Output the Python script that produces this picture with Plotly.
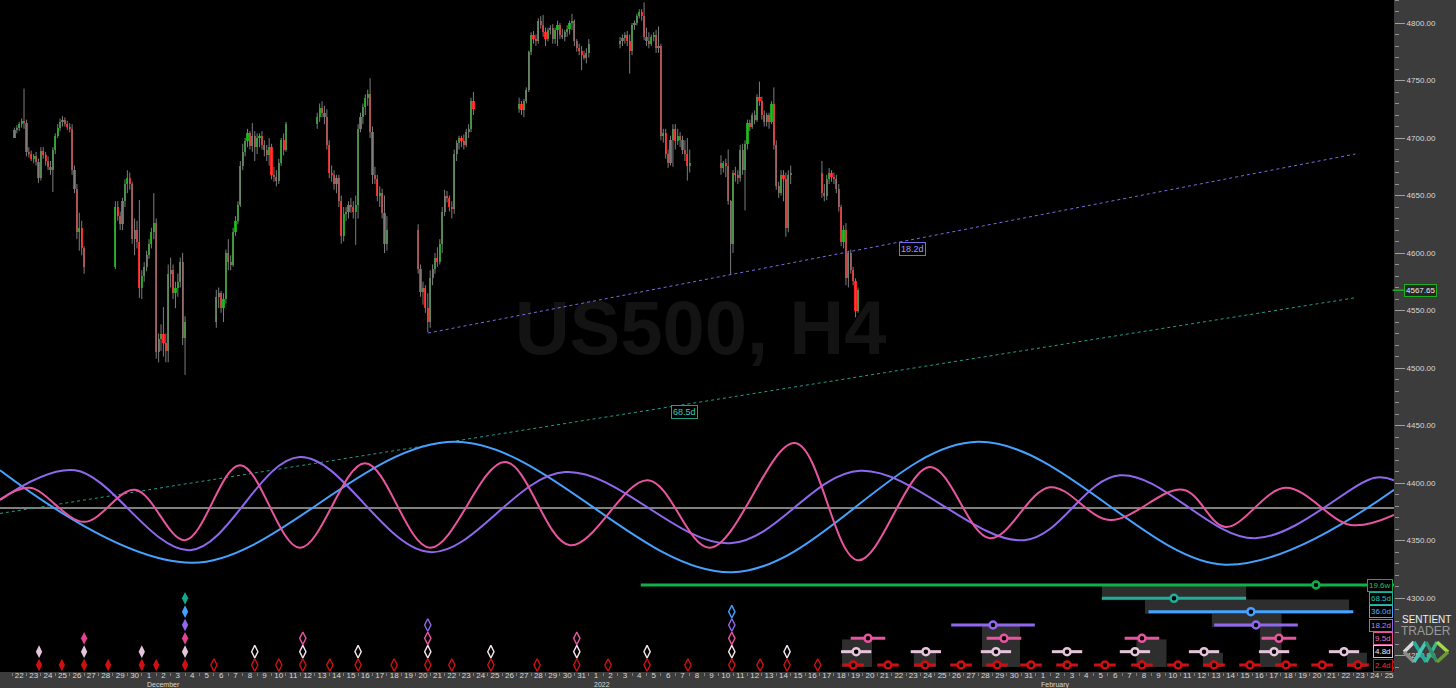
import pandas as pd
import plotly.graph_objects as go

# ---------------- price data (US500, H4) ----------------
trade_days = ["2021-11-22", "2021-11-23", "2021-11-24", "2021-11-25", "2021-11-26",
              "2021-11-29", "2021-11-30", "2021-12-01", "2021-12-02", "2021-12-03",
              "2021-12-06", "2021-12-07", "2021-12-08", "2021-12-09", "2021-12-10",
              "2021-12-13", "2021-12-14", "2021-12-15", "2021-12-16", "2021-12-17",
              "2021-12-20", "2021-12-21", "2021-12-22", "2021-12-23",
              "2021-12-27", "2021-12-28", "2021-12-29", "2021-12-30", "2021-12-31",
              "2022-01-03", "2022-01-04", "2022-01-05", "2022-01-06", "2022-01-07",
              "2022-01-10", "2022-01-11", "2022-01-12", "2022-01-13", "2022-01-14",
              "2022-01-17", "2022-01-18", "2022-01-19"]
first_open = 4700
highs = [
    4709, 4711, 4714, 4717, 4743, 4716,
    4692, 4689, 4686, 4688, 4682, 4692,
    4692, 4688, 4684, 4680, 4692, 4704,
    4712, 4717, 4719, 4718, 4715, 4713,
    4712, 4676, 4660, 4635, 4628, 4606,
    4645, 4645, 4636, 4648, 4664, 4672,
    4670, 4662, 4630, 4628, 4646, 4585,
    4592, 4602, 4612, 4622, 4652, 4630,
    4530, 4538, 4553, 4530, 4590, 4596,
    4590, 4575, 4582, 4596, 4600, 4545,
    4568, 4570, 4567, 4565, 4603, 4612,
    4598, 4622, 4632, 4645, 4680, 4695,
    4700, 4708, 4706, 4713, 4706, 4704,
    4704, 4706, 4698, 4694, 4700, 4695,
    4675, 4672, 4682, 4700, 4704, 4714,
    4722, 4730, 4732, 4728, 4725, 4698,
    4676, 4672, 4668, 4668, 4650, 4640,
    4640, 4645, 4648, 4645, 4650, 4712,
    4722, 4730, 4738, 4742, 4752, 4710,
    4675, 4668, 4658, 4656, 4650, 4632,
    4625, 4590, 4575, 4572, 4565, 4585,
    4590, 4600, 4605, 4612, 4640, 4655,
    4654, 4650, 4645, 4690, 4698, 4702,
    4702, 4703, 4708, 4712, 4735, 4740,
    4735, 4732, 4734, 4744, 4776, 4792,
    4793, 4790, 4804, 4806, 4807, 4796,
    4796, 4798, 4799, 4796, 4802, 4800,
    4795, 4794, 4798, 4802, 4808, 4803,
    4786, 4782, 4780, 4776, 4778, 4786,
    4788, 4790, 4792, 4793, 4790, 4800,
    4802, 4808, 4812, 4812, 4818, 4796,
    4792, 4790, 4792, 4794, 4797, 4782,
    4708, 4708, 4690, 4702, 4712, 4712,
    4708, 4705, 4702, 4698, 4700, 4690,
    4685, 4680, 4682, 4690, 4646, 4672,
    4675, 4672, 4694, 4695, 4698, 4716,
    4716, 4722, 4724, 4738, 4749, 4736,
    4724, 4722, 4722, 4732, 4744, 4698,
    4662, 4672, 4672, 4670, 4672, 4676,
    4680, 4660, 4668, 4674, 4672, 4670,
    4668, 4660, 4642, 4624, 4626, 4602,
    4603, 4588, 4578, 4570]
lows = [
    4700, 4704, 4706, 4709, 4708, 4684,
    4683, 4680, 4678, 4676, 4661, 4663,
    4682, 4676, 4672, 4668, 4653, 4686,
    4700, 4706, 4710, 4710, 4707, 4705,
    4668, 4652, 4612, 4602, 4598, 4582,
    4586, 4628, 4620, 4620, 4640, 4652,
    4655, 4608, 4598, 4604, 4561, 4560,
    4575, 4584, 4595, 4604, 4612, 4508,
    4505, 4515, 4510, 4505, 4505, 4570,
    4560, 4552, 4562, 4570, 4520, 4494,
    4535, 4552, 4548, 4540, 4556, 4585,
    4585, 4588, 4615, 4625, 4640, 4672,
    4684, 4692, 4690, 4688, 4680, 4686,
    4692, 4690, 4684, 4680, 4676, 4664,
    4662, 4658, 4660, 4676, 4685, 4688,
    4708, 4714, 4718, 4712, 4690, 4665,
    4662, 4655, 4652, 4640, 4608, 4610,
    4628, 4630, 4635, 4630, 4607, 4630,
    4705, 4712, 4720, 4728, 4700, 4660,
    4660, 4645, 4640, 4630, 4600, 4602,
    4582, 4562, 4555, 4548, 4531, 4535,
    4572, 4582, 4588, 4590, 4600, 4632,
    4644, 4636, 4630, 4634, 4680, 4690,
    4692, 4690, 4692, 4700, 4705, 4720,
    4722, 4720, 4718, 4730, 4740, 4772,
    4782, 4780, 4782, 4795, 4788, 4780,
    4784, 4790, 4782, 4782, 4780, 4786,
    4786, 4784, 4788, 4790, 4794, 4780,
    4775, 4772, 4759, 4768, 4765, 4770,
    4778, 4780, 4782, 4780, 4756, 4772,
    4794, 4798, 4804, 4802, 4785, 4780,
    4778, 4780, 4784, 4774, 4774, 4698,
    4696, 4682, 4674, 4676, 4675, 4690,
    4694, 4692, 4686, 4680, 4663, 4670,
    4668, 4670, 4666, 4642, 4581, 4600,
    4662, 4660, 4662, 4668, 4637, 4690,
    4706, 4708, 4712, 4714, 4728, 4716,
    4710, 4710, 4708, 4712, 4690, 4655,
    4648, 4650, 4645, 4614, 4618, 4660,
    4648, 4645, 4646, 4660, 4662, 4660,
    4652, 4636, 4606, 4604, 4572, 4570,
    4582, 4572, 4544, 4548]
closes = [
    4707, 4709, 4712, 4715, 4713, 4688,
    4686, 4682, 4684, 4679, 4665, 4689,
    4685, 4680, 4675, 4672, 4690, 4702,
    4709, 4714, 4716, 4712, 4710, 4708,
    4672, 4656, 4618, 4622, 4604, 4588,
    4640, 4632, 4625, 4645, 4660, 4665,
    4660, 4612, 4620, 4610, 4570, 4580,
    4588, 4598, 4608, 4618, 4626, 4514,
    4525, 4530, 4522, 4515, 4582, 4585,
    4565, 4570, 4575, 4592, 4526, 4540,
    4562, 4565, 4552, 4560, 4600, 4592,
    4590, 4618, 4628, 4642, 4676, 4688,
    4697, 4704, 4693, 4702, 4692, 4700,
    4702, 4694, 4690, 4685, 4692, 4668,
    4666, 4663, 4678, 4698, 4690, 4712,
    4718, 4726, 4722, 4718, 4694, 4670,
    4668, 4660, 4665, 4645, 4615, 4634,
    4636, 4642, 4640, 4636, 4642, 4708,
    4718, 4727, 4735, 4738, 4705, 4668,
    4664, 4650, 4652, 4635, 4608, 4620,
    4586, 4566, 4570, 4552, 4540, 4578,
    4586, 4596, 4592, 4608, 4636, 4650,
    4648, 4640, 4638, 4686, 4696, 4700,
    4697, 4694, 4705, 4708, 4732, 4725,
    4730, 4724, 4732, 4742, 4775, 4790,
    4786, 4784, 4802, 4798, 4792, 4786,
    4794, 4796, 4786, 4794, 4798, 4790,
    4788, 4792, 4795, 4800, 4802, 4784,
    4778, 4776, 4772, 4770, 4774, 4782,
    4784, 4787, 4790, 4784, 4776, 4798,
    4800, 4806, 4810, 4806, 4788, 4784,
    4782, 4788, 4790, 4778, 4780, 4702,
    4704, 4686, 4678, 4698, 4708, 4697,
    4702, 4698, 4690, 4686, 4676, 4678,
    4674, 4678, 4676, 4645, 4608, 4670,
    4668, 4665, 4690, 4672, 4695, 4713,
    4710, 4720, 4716, 4736, 4732, 4720,
    4714, 4720, 4714, 4730, 4694, 4658,
    4652, 4668, 4664, 4622, 4668, 4670,
    4652, 4650, 4664, 4670, 4666, 4664,
    4656, 4640, 4610, 4620, 4578, 4600,
    4585, 4576, 4550, 4567.65]
last_price = 4567.65

# ---------------- trend lines ----------------
tl_182_t = ["2021-12-20 20:24", "2022-02-23 04:00"]
tl_182_p = [4530.4, 4686.1]
tl_685_t = ["2021-11-21 04:00", "2022-02-23 04:00"]
tl_685_p = [4373.5, 4561.1]

# ---------------- cycle waves (extrema, amplitude units) ----------------
w36_t = ["2021-11-21 04:00", "2021-12-04 11:30", "2021-12-22 17:20", "2022-01-10 22:20",
         "2022-01-27 23:50", "2022-02-14 03:50", "2022-02-25 20:10"]
w36_v = [0.60, -0.87, 1.05, -1.02, 1.05, -0.90, 0.29]
w18_t = ["2021-11-21 04:00", "2021-11-26 08:50", "2021-12-04 08:10", "2021-12-11 23:20",
         "2021-12-20 23:45", "2021-12-30 08:25", "2022-01-10 19:00", "2022-01-19 19:25",
         "2022-01-31 05:00", "2022-02-06 20:10", "2022-02-16 04:50", "2022-02-24 12:30",
         "2022-02-25 20:10"]
w18_v = [0.13, 0.60, -0.67, 0.81, -0.70, 0.57, -0.56, 0.59, -0.51, 0.52, -0.48, 0.48, 0.44]
w9_t = ["2021-11-21 04:00", "2021-11-23 06:00", "2021-11-27 00:00", "2021-11-30 12:45",
        "2021-12-04 00:00", "2021-12-07 19:30", "2021-12-11 23:20", "2021-12-16 11:30",
        "2021-12-20 23:45", "2021-12-26 04:30", "2021-12-30 16:50", "2022-01-05 02:30",
        "2022-01-09 09:50", "2022-01-15 07:10", "2022-01-19 16:00", "2022-01-24 15:50",
        "2022-01-28 19:40", "2022-02-01 23:30", "2022-02-06 03:20", "2022-02-11 05:00",
        "2022-02-14 03:50", "2022-02-18 07:40", "2022-02-22 20:00", "2022-02-25 20:10"]
w9_v = [0.13, 0.32, -0.22, 0.29, -0.51, 0.68, -0.63, 0.71, -0.63, 0.73, -0.59, 0.44,
        -0.63, 1.03, -0.83, 0.65, -0.48, 0.33, -0.19, 0.29, -0.30, 0.32, -0.27, -0.11]

# ---------------- past cycle troughs (diamonds) ----------------
d24_fill = ["2021-11-23 21:00", "2021-11-25 11:00", "2021-11-27 00:00", "2021-11-28 16:00",
            "2021-12-01 00:00", "2021-12-02 00:00", "2021-12-04 00:00"]
d24_open = ["2021-12-06 00:00", "2021-12-08 20:00", "2021-12-10 12:00", "2021-12-12 04:00",
            "2021-12-14 01:00", "2021-12-16 00:00", "2021-12-18 12:00", "2021-12-20 20:00",
            "2021-12-22 12:00", "2021-12-25 05:00", "2021-12-28 10:00", "2021-12-31 04:00",
            "2022-01-02 08:00", "2022-01-05 01:00", "2022-01-07 21:00", "2022-01-10 22:00",
            "2022-01-12 21:00", "2022-01-14 18:00", "2022-01-16 21:00"]
d48_fill = ["2021-11-23 21:00", "2021-11-27 00:00", "2021-12-01 00:00", "2021-12-04 00:00"]
d48_open = ["2021-12-08 20:00", "2021-12-12 04:00", "2021-12-16 00:00", "2021-12-20 20:00",
            "2021-12-25 05:00", "2021-12-31 04:00", "2022-01-05 01:00", "2022-01-10 22:00",
            "2022-01-14 18:00"]
d95_fill = ["2021-11-27 00:00", "2021-12-04 00:00"]
d95_open = ["2021-12-12 04:00", "2021-12-20 20:00", "2021-12-31 04:00", "2022-01-10 22:00"]
d182_fill = ["2021-12-04 00:00"]
d182_open = ["2021-12-20 20:00", "2022-01-10 22:00"]
d36_fill = ["2021-12-04 00:00"]
d36_open = ["2022-01-10 22:00"]
d685_fill = ["2021-12-04 00:00"]

# ---------------- projected troughs (circles with ranges) ----------------
f24 = ["2022-01-19 08:00", "2022-01-21 18:00", "2022-01-24 07:30", "2022-01-26 19:30",
       "2022-01-29 07:30", "2022-01-31 16:00", "2022-02-03 04:00", "2022-02-05 19:00",
       "2022-02-08 08:40", "2022-02-10 20:40", "2022-02-13 08:40", "2022-02-15 20:30",
       "2022-02-18 08:30", "2022-02-20 20:30", "2022-02-23 08:10", "2022-02-25 17:00"]
f48 = ["2022-01-19 13:00", "2022-01-24 09:00", "2022-01-29 05:40", "2022-02-03 04:00",
       "2022-02-07 21:00", "2022-02-12 16:00", "2022-02-17 12:30", "2022-02-22 09:00"]
f95 = ["2022-01-20 08:40", "2022-01-29 19:00", "2022-02-08 08:40", "2022-02-17 20:40"]
f182 = ["2022-01-29 00:45", "2022-02-16 06:30"]
f36 = ["2022-02-15 22:00"]
f685 = ["2022-02-10 14:00"]
f196 = ["2022-02-20 10:20"]
f196_range = ["2022-01-04 14:30", "2022-02-28 00:00"]
range_days = {"2.4d": 0.75, "4.8d": 1.05, "9.5d": 1.2, "18.2d": 2.9, "36.0d": 7.1, "68.5d": 5.0}

# projection windows (start, end, first row, last row)
win_start = ["2022-01-18 13:30", "2022-01-23 13:00", "2022-01-28 06:30", "2022-02-07 23:30",
             "2022-02-12 14:00", "2022-02-16 13:00", "2022-02-22 14:00", "2022-02-05 14:00",
             "2022-02-08 13:40", "2022-02-13 05:00"]
win_end = ["2022-01-20 15:20", "2022-01-25 02:00", "2022-01-30 21:40", "2022-02-10 01:30",
           "2022-02-13 23:30", "2022-02-18 01:00", "2022-02-23 23:20", "2022-02-15 14:00",
           "2022-02-22 17:20", "2022-02-18 01:00"]
win_row0 = [5, 6, 4, 5, 6, 4, 6, 1, 2, 3]
win_row1 = [6, 6, 6, 6, 6, 6, 6, 1, 2, 3]

cycle_names = ["19.6w", "68.5d", "36.0d", "18.2d", "9.5d", "4.8d", "2.4d"]

# ---------------- styles ----------------
C_UP, C_DN, C_WICK = "#16a516", "#ff1c1c", "#7c7c7c"
C196, C685, C36, C182, C95, C48, C24 = ("#10b048", "#1fae9c", "#45a2ff", "#9068ee",
                                       "#e8559f", "#e6c4dc", "#d01010")
TXT48 = "#f4e6f0"
ROW = {n: i for i, n in enumerate(cycle_names)}
XR = ["2021-11-21 04:00", "2022-02-25 20:10"]

# ---------------- build ----------------
times = []
for d in trade_days:
    for k in range(1, 7):
        times.append(pd.Timestamp(d) + pd.Timedelta(hours=4 * k))
times = times[:len(closes)]
opens = [first_open] + closes[:-1]

fig = go.Figure()

# watermark
fig.add_trace(go.Scatter(x=["2022-01-08 18:00"], y=[4529], mode="text", text=["<b>US500, H4</b>"],
                         textfont=dict(size=76, color="#131313", family="Liberation Sans"),
                         hoverinfo="skip"))

# wicks
wx, wy = [], []
for t, h, l in zip(times, highs, lows):
    wx += [t, t, None]
    wy += [l, h, None]
fig.add_trace(go.Scatter(x=wx, y=wy, mode="lines", line=dict(color=C_WICK, width=1), hoverinfo="skip"))

# bodies
base = [min(o, c) for o, c in zip(opens, closes)]
hgt = [max(abs(c - o), 0.8) for o, c in zip(opens, closes)]
cols = [C_UP if c >= o else C_DN for o, c in zip(opens, closes)]
fig.add_trace(go.Bar(x=times, y=hgt, base=base, width=4 * 3600 * 1000 * 0.9,
                     marker=dict(color=cols, line=dict(width=0)), hoverinfo="skip"))

# trend lines
fig.add_trace(go.Scatter(x=tl_182_t, y=tl_182_p, mode="lines",
                         line=dict(color="#7b6ae6", width=1, dash="dot"), hoverinfo="skip"))
fig.add_trace(go.Scatter(x=tl_685_t, y=tl_685_p, mode="lines",
                         line=dict(color="#1f9f8c", width=1, dash="dot"), hoverinfo="skip"))

# waves
for tt, vv, cc in [(w36_t, w36_v, C36), (w18_t, w18_v, C182), (w9_t, w9_v, C95)]:
    fig.add_trace(go.Scatter(x=tt, y=vv, yaxis="y2", mode="lines",
                             line=dict(color=cc, width=2, shape="spline", smoothing=1.0),
                             hoverinfo="skip"))

# diamonds
def diamonds(dates, name, color, filled, edge=None):
    if not dates:
        return
    fig.add_trace(go.Scatter(
        x=dates, y=[ROW[name]] * len(dates), yaxis="y3", mode="markers", hoverinfo="skip",
        marker=dict(symbol="diamond-tall" if filled else "diamond-tall-open", size=9,
                    color=color, line=dict(color=edge or color, width=1.4 if not filled else 0))))

diamonds(d24_fill, "2.4d", C24, True)
diamonds(d24_open, "2.4d", C24, False)
diamonds(d48_fill, "4.8d", C48, True)
diamonds(d48_open, "4.8d", TXT48, False)
diamonds(d95_fill, "9.5d", "#e0448f", True)
diamonds(d95_open, "9.5d", C95, False)
diamonds(d182_fill, "18.2d", C182, True)
diamonds(d182_open, "18.2d", C182, False)
diamonds(d36_fill, "36.0d", C36, True)
diamonds(d36_open, "36.0d", C36, False)
diamonds(d685_fill, "68.5d", "#14a88e", True)

# projection windows (dark boxes)
shapes = []
for s, e, r0, r1 in zip(win_start, win_end, win_row0, win_row1):
    shapes.append(dict(type="rect", xref="x", yref="y3", x0=s, x1=e, y0=r0 - 0.92, y1=r1 + 0.15,
                       fillcolor="#2e2e2e", line=dict(width=0), layer="below"))

# projected troughs
def projections(centers, name, color, span=None):
    xs, ys = [], []
    for c in centers:
        t = pd.Timestamp(c)
        if span is None:
            a = t - pd.Timedelta(days=range_days[name])
            b = t + pd.Timedelta(days=range_days[name])
        else:
            a, b = pd.Timestamp(span[0]), pd.Timestamp(span[1])
        xs += [a, b, None]
        ys += [ROW[name], ROW[name], None]
    fig.add_trace(go.Scatter(x=xs, y=ys, yaxis="y3", mode="lines", line=dict(color=color, width=3),
                             hoverinfo="skip"))
    fig.add_trace(go.Scatter(x=centers, y=[ROW[name]] * len(centers), yaxis="y3", mode="markers",
                             marker=dict(symbol="circle", size=7, color="#000000",
                                         line=dict(color=color, width=2.5)), hoverinfo="skip"))

projections(f196, "19.6w", C196, span=f196_range)
projections(f685, "68.5d", C685)
projections(f36, "36.0d", C36)
projections(f182, "18.2d", C182)
projections(f95, "9.5d", C95)
projections(f48, "4.8d", C48)
projections(f24, "2.4d", C24)

# white zero line of the cycle panel
shapes.append(dict(type="line", xref="paper", yref="y2", x0=0, x1=1, y0=0, y1=0,
                   line=dict(color="#ffffff", width=1), layer="below"))
# current price connector
shapes.append(dict(type="line", xref="paper", yref="y", x0=0.999, x1=1.0075, y0=last_price, y1=last_price,
                   line=dict(color="#1db01d", width=1.5)))
# logo
W, H = 1394.0, 672.0
logo = [((1404, 652), (1414, 642), "#d8d8d8"), ((1404, 652), (1414, 662), "#8c8c8c"),
        ((1414, 642), (1426, 662), "#1fae9c"), ((1414, 662), (1426, 642), "#4cc6b8"),
        ((1426, 662), (1437, 642), "#3cb88a"), ((1426, 642), (1437, 662), "#2f8f6a"),
        ((1437, 642), (1448, 652), "#a6d84a"), ((1437, 662), (1448, 652), "#6c9a30")]
for (x0, y0), (x1, y1), c in logo:
    shapes.append(dict(type="line", xref="paper", yref="paper", x0=x0 / W, x1=x1 / W,
                       y0=(H - y0) / H, y1=(H - y1) / H, line=dict(color=c, width=3.5)))

ann = []
# trendline labels
ann.append(dict(x="2022-01-23 11:30", y=4603.5, xref="x", yref="y", text="18.2d", showarrow=False,
                font=dict(size=9, color="#a898ff"), bordercolor="#7b6ae6", borderwidth=1,
                borderpad=1, bgcolor="#000000"))
ann.append(dict(x="2022-01-07 15:20", y=4461.7, xref="x", yref="y", text="68.5d", showarrow=False,
                font=dict(size=9, color="#3cc8b4"), bordercolor="#1f9f8c", borderwidth=1,
                borderpad=1, bgcolor="#000000"))
# right-hand cycle labels
lab_cols = {"19.6w": (C196, "#22c25a"), "68.5d": (C685, "#2ec4b0"), "36.0d": (C36, "#5ab0ff"),
            "18.2d": (C182, "#a88af8"), "9.5d": (C95, "#f070b0"), "4.8d": ("#d8c0d0", TXT48),
            "2.4d": (C24, "#ff2a2a")}
for n in cycle_names:
    bc, tc = lab_cols[n]
    ann.append(dict(x=1, y=ROW[n], xref="paper", yref="y3", xanchor="right", xshift=-1,
                    text=n, showarrow=False, font=dict(size=8, color=tc), bordercolor=bc,
                    borderwidth=1, borderpad=1, bgcolor="#000000"))
# current price label
ann.append(dict(x=1.0075, y=last_price, xref="paper", yref="y", xanchor="left", text=f"{last_price:.2f}",
                showarrow=False, font=dict(size=8, color="#ececec"), bordercolor="#1db01d",
                borderwidth=1, borderpad=1, bgcolor="#262626"))
# month labels
for xm, tm in [("2021-12-01", "December"), ("2022-01-01", "2022"), ("2022-02-01", "February")]:
    ann.append(dict(x=xm, y=0, xref="x", yref="paper", xanchor="left", yanchor="top", xshift=4,
                    yshift=-8, text=tm, showarrow=False, borderpad=0,
                    font=dict(size=7, color="#d8d8d8")))
# logo text
ann.append(dict(x=1426 / W, y=(H - 619) / H, xref="paper", yref="paper", xanchor="center",
                yanchor="middle", text="SENTIENT", showarrow=False,
                font=dict(size=10, color="#f0f0f0")))
ann.append(dict(x=1426 / W, y=(H - 631) / H, xref="paper", yref="paper", xanchor="center",
                yanchor="middle", text="TRADER", showarrow=False,
                font=dict(size=12, color="#9a9a9a")))

days = pd.date_range("2021-11-22", "2022-02-25", freq="D")
tickvals = [d + pd.Timedelta(hours=12) for d in days]
ticktext = [str(d.day) for d in days]

fig.update_layout(
    width=1456, height=688, margin=dict(l=0, r=62, t=0, b=16),
    paper_bgcolor="#3c3c3c", plot_bgcolor="#000000", showlegend=False, hovermode=False,
    font=dict(family="Liberation Sans", color="#d8d8d8"),
    bargap=0,
    xaxis=dict(type="date", range=XR, tickmode="array", tickvals=tickvals, ticktext=ticktext,
               ticks="", showgrid=False, zeroline=False, showline=False,
               tickfont=dict(size=8, color="#d8d8d8"), ticklabelstandoff=-3,
               minor=dict(ticks="outside", ticklen=3, tickcolor="#808080", dtick=86400000,
                          tick0="2021-11-22", showgrid=False)),
    yaxis=dict(side="right", range=[4235.65, 4820], dtick=50, tickformat=".2f", showgrid=False,
               zeroline=False, ticks="outside", ticklen=10, tickcolor="#a0a0a0",
               tickfont=dict(size=8, color="#d8d8d8"), showline=False,
               minor=dict(ticks="outside", ticklen=4, tickcolor="#909090", dtick=10, showgrid=False)),
    yaxis2=dict(overlaying="y", range=[-2.603, 8.063], visible=False),
    yaxis3=dict(overlaying="y", range=[6.525, -43.88], visible=False),
    shapes=shapes, annotations=ann,
)

fig.write_html("out.html", config={"displayModeBar": False},
               post_script="document.body.style.margin='0';document.body.style.overflow='hidden';")
